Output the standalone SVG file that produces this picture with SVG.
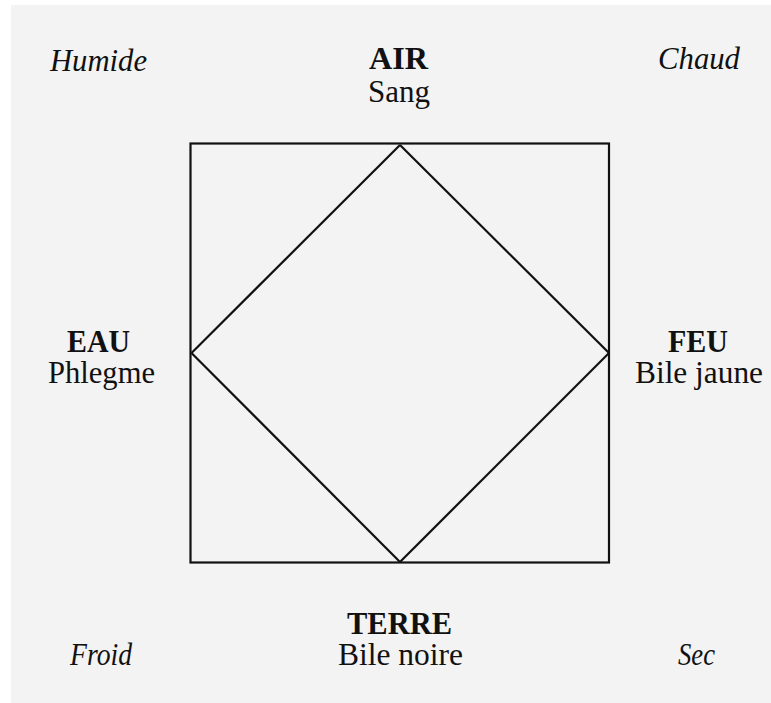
<svg xmlns="http://www.w3.org/2000/svg" width="771" height="703" viewBox="0 0 771 703">
  <style>
    .t { font-family: "Liberation Serif", "Times New Roman", serif; font-size: 31px; fill: #111; text-anchor: middle; }
    .b { font-weight: bold; }
    .i { font-style: italic; }
    .ln { fill: none; stroke: #111; stroke-width: 2.2; stroke-linejoin: miter; }
  </style>
  <rect x="0" y="0" width="771" height="703" fill="#ffffff"/>
  <rect x="11" y="5" width="760" height="698" fill="#f3f3f3"/>

  <g id="frame">
    <rect class="ln" x="190.5" y="143.5" width="418.5" height="419"/>
  </g>

  <g id="connectors">
    <line class="ln" x1="400" y1="145" x2="609" y2="353"/>
    <line class="ln" x1="609" y1="353" x2="400" y2="562"/>
    <line class="ln" x1="400" y1="562" x2="191.5" y2="353"/>
    <line class="ln" x1="191.5" y1="353" x2="400" y2="145"/>
  </g>

  <g id="humide"><text class="t i" x="98.5" y="71" textLength="97" lengthAdjust="spacingAndGlyphs">Humide</text></g>
  <g id="chaud"><text class="t i" x="699" y="69" textLength="82" lengthAdjust="spacingAndGlyphs">Chaud</text></g>
  <g id="air">
    <text class="t b" x="398.5" y="69" textLength="59" lengthAdjust="spacingAndGlyphs">AIR</text>
    <text class="t" x="399" y="102" textLength="62" lengthAdjust="spacingAndGlyphs">Sang</text>
  </g>
  <g id="eau">
    <text class="t b" x="98.5" y="352" textLength="63" lengthAdjust="spacingAndGlyphs">EAU</text>
    <text class="t" x="101.5" y="383" textLength="107" lengthAdjust="spacingAndGlyphs">Phlegme</text>
  </g>
  <g id="feu">
    <text class="t b" x="698" y="352" textLength="60" lengthAdjust="spacingAndGlyphs">FEU</text>
    <text class="t" x="699" y="383" textLength="128" lengthAdjust="spacingAndGlyphs">Bile jaune</text>
  </g>
  <g id="terre">
    <text class="t b" x="399.5" y="634" textLength="105" lengthAdjust="spacingAndGlyphs">TERRE</text>
    <text class="t" x="400.5" y="665" textLength="125" lengthAdjust="spacingAndGlyphs">Bile noire</text>
  </g>
  <g id="froid"><text class="t i" x="101" y="665" textLength="62" lengthAdjust="spacingAndGlyphs">Froid</text></g>
  <g id="sec"><text class="t i" x="696.5" y="665" textLength="37" lengthAdjust="spacingAndGlyphs">Sec</text></g>
</svg>
